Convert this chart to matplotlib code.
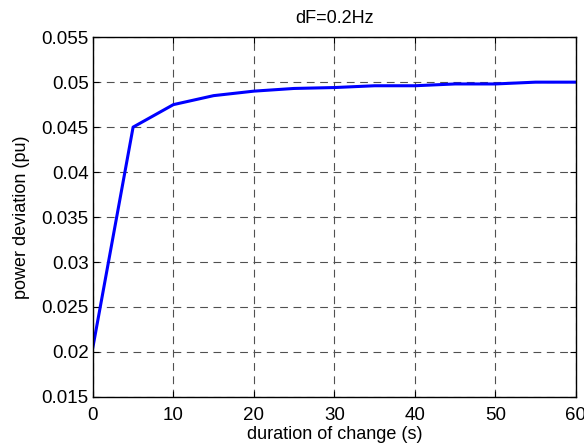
import matplotlib
matplotlib.use('Agg')
import matplotlib.pyplot as plt

# duration of change (s) vs power deviation (pu)
duration = [0, 5, 10, 15, 20, 25, 30, 35, 40, 45, 50, 55, 60]
power_dev = [0.0205, 0.0450, 0.0475, 0.0485, 0.0490, 0.0493, 0.0494,
             0.0496, 0.0496, 0.0498, 0.0498, 0.0500, 0.0500]
xticks = [0, 10, 20, 30, 40, 50, 60]
yticks = [0.015, 0.02, 0.025, 0.03, 0.035, 0.04, 0.045, 0.05, 0.055]
ytick_labels = ['0.015', '0.02', '0.025', '0.03', '0.035', '0.04', '0.045', '0.05', '0.055']

plt.rcParams['font.family'] = ['Liberation Sans', 'DejaVu Sans']
plt.rcParams['font.size'] = 13

fig = plt.figure(figsize=(5.84, 4.48), dpi=100)
ax = fig.add_axes([0.159, 0.114, 0.827, 0.803])

ax.plot(duration, power_dev, color='#0000ff', linewidth=2.2)

ax.set_xlim(0, 60)
ax.set_ylim(0.015, 0.055)
ax.set_xticks(xticks)
ax.set_yticks(yticks)
ax.set_yticklabels(ytick_labels)
ax.tick_params(direction='in', top=True, right=True, length=4, labelsize=13.5)
ax.tick_params(axis='x', pad=7)
ax.tick_params(axis='y', pad=3)
ax.grid(True, color='#505050', linestyle=(0, (7, 5)), linewidth=0.8)
for s in ax.spines.values():
    s.set_linewidth(1)

ax.set_xlabel('duration of change (s)', fontsize=13, labelpad=2)
ax.set_ylabel('power deviation (pu)', fontsize=13, labelpad=8)
ax.set_title('dF=0.2Hz', fontsize=13, pad=10)

fig.savefig('out.png', dpi=100)
